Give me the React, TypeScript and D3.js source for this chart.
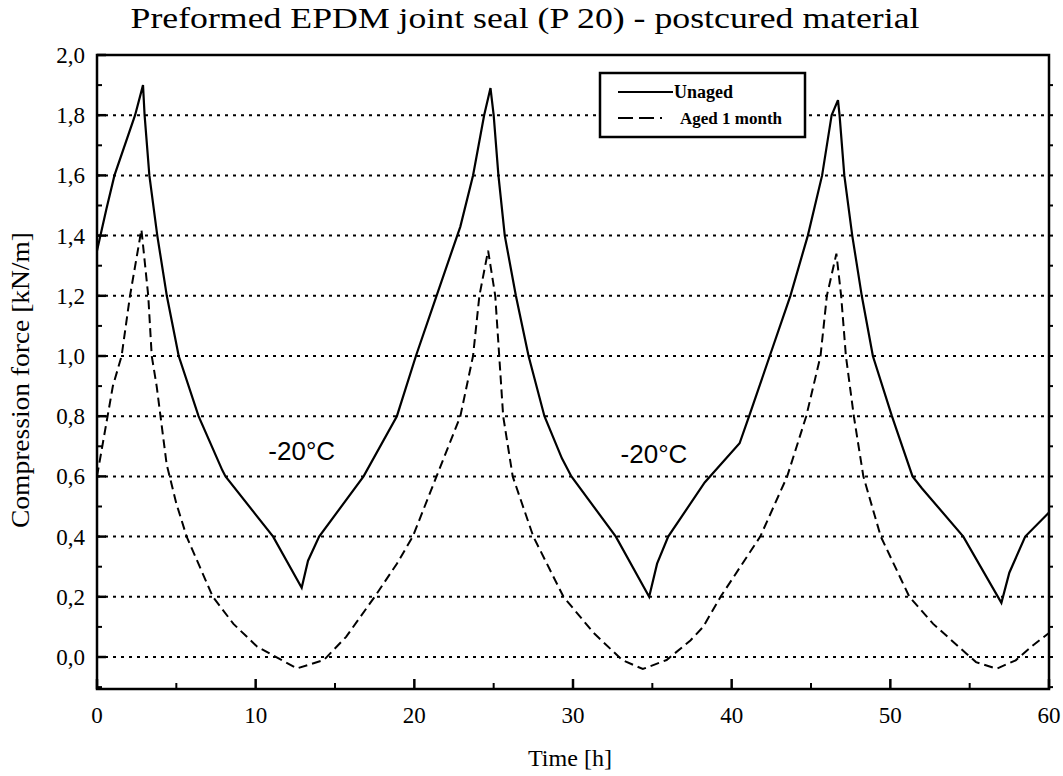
import React from "react"
import * as d3 from "d3"

// Data
const unagedTime = [0, 0.6, 1.1, 2.4, 2.9, 3.0, 3.3, 3.8, 4.4, 5.15, 6.4, 7.9, 8.1, 11.1, 12.9, 13.3, 14.0, 16.8, 18.9, 20.1, 21.4, 22.9, 23.7, 24.4, 24.8, 25.0, 25.3, 25.7, 26.4, 27.2, 28.2, 29.3, 29.9, 32.7, 34.8, 35.3, 36.0, 38.3, 40.5, 41.1, 42.4, 43.7, 44.8, 45.7, 46.3, 46.7, 46.8, 47.1, 47.6, 48.2, 48.9, 50.1, 51.4, 52.0, 54.6, 57.0, 57.5, 58.5, 60]
const unagedForce = [1.35, 1.49, 1.6, 1.8, 1.9, 1.8, 1.6, 1.4, 1.2, 1.0, 0.8, 0.62, 0.6, 0.4, 0.23, 0.32, 0.4, 0.6, 0.8, 1.0, 1.2, 1.43, 1.6, 1.8, 1.89, 1.8, 1.6, 1.4, 1.2, 1.0, 0.8, 0.66, 0.6, 0.4, 0.2, 0.31, 0.4, 0.58, 0.71, 0.8, 1.0, 1.2, 1.4, 1.6, 1.8, 1.85, 1.8, 1.6, 1.4, 1.2, 1.0, 0.8, 0.6, 0.56, 0.4, 0.18, 0.28, 0.4, 0.48]

const agedTime = [0, 0.4, 1.0, 1.55, 2.08, 2.8, 3.23, 3.45, 3.76, 4.39, 5.0, 5.65, 7.3, 8.6, 10.1, 12.6, 14.3, 15.7, 17.5, 18.9, 19.9, 21.4, 22.9, 23.7, 24.1, 24.65, 25.1, 25.6, 26.2, 27.5, 29.4, 31.3, 33.1, 34.4, 35.9, 37.4, 38.2, 39.3, 41.8, 43.5, 44.7, 45.6, 46.0, 46.6, 46.9, 47.2, 47.7, 48.3, 49.4, 51.2, 52.7, 54.8, 55.4, 56.7, 57.9, 59.0, 60]
const agedForce = [0.6, 0.72, 0.9, 1.0, 1.2, 1.42, 1.2, 1.0, 0.9, 0.64, 0.51, 0.4, 0.2, 0.11, 0.034, -0.038, -0.01, 0.067, 0.2, 0.31, 0.4, 0.6, 0.8, 1.0, 1.2, 1.35, 1.2, 0.8, 0.6, 0.4, 0.2, 0.08, -0.01, -0.04, -0.01, 0.055, 0.1, 0.2, 0.4, 0.6, 0.8, 1.0, 1.2, 1.34, 1.2, 1.0, 0.8, 0.6, 0.4, 0.2, 0.11, 0.011, -0.017, -0.039, -0.011, 0.039, 0.08]

const xTicks = [0, 10, 20, 30, 40, 50, 60]
const yTicks = [0, 0.2, 0.4, 0.6, 0.8, 1.0, 1.2, 1.4, 1.6, 1.8, 2.0]
const gridValues = [0, 0.2, 0.4, 0.6, 0.8, 1.0, 1.2, 1.4, 1.6, 1.8]

const noteTime = [10.8, 33.0]
const noteForce = [0.655, 0.645]

const serif = "'Liberation Serif', 'Times New Roman', serif"
const sans = "'Liberation Sans', Arial, sans-serif"

export default function App() {
  const totalW = 1063
  const totalH = 776
  const left = 97
  const right = 1049
  const top = 55
  const bottom = 689

  const xScale = d3.scaleLinear().domain([0, 60]).range([left, right])
  const yScale = d3.scaleLinear().domain([0, 2]).range([657, top])

  const line = d3
    .line<[number, number]>()
    .x(d => xScale(d[0]))
    .y(d => yScale(d[1]))

  const unaged = unagedTime.map((t, i) => [t, unagedForce[i]] as [number, number])
  const aged = agedTime.map((t, i) => [t, agedForce[i]] as [number, number])

  const minorX = d3.range(5, 60, 10)
  const minorY = d3.range(-1, 20, 2).map(k => k / 10)
  const allY = d3.range(-1, 20).map(k => k / 10)

  return (
    <svg
      width={totalW}
      height={totalH}
      style={{ position: "absolute", left: 0, top: 0, background: "#fff" }}
    >
      <text
        x={525}
        y={28}
        fontFamily={serif}
        fontSize={29}
        textAnchor="middle"
        textLength={789}
        lengthAdjust="spacingAndGlyphs"
      >
        Preformed EPDM joint seal (P 20) - postcured material
      </text>

      {/* grid */}
      {gridValues.map(v => (
        <line
          key={`g-${v}`}
          x1={left}
          x2={right}
          y1={yScale(v)}
          y2={yScale(v)}
          stroke="#000"
          strokeWidth={2}
          strokeDasharray="3,5"
        />
      ))}

      {/* left ticks */}
      {yTicks.map(v => (
        <line key={`lt-${v}`} x1={left} x2={left + 9} y1={yScale(v)} y2={yScale(v)} stroke="#000" strokeWidth={2.5} />
      ))}
      {minorY.map(v => (
        <line key={`lm-${v}`} x1={left} x2={left + 5} y1={yScale(v)} y2={yScale(v)} stroke="#000" strokeWidth={2} />
      ))}
      {/* right ticks */}
      {allY.map(v => (
        <line key={`rt-${v}`} x1={right} x2={right + 4} y1={yScale(v)} y2={yScale(v)} stroke="#000" strokeWidth={2} />
      ))}
      {/* bottom ticks */}
      {xTicks.map(t => (
        <line key={`bt-${t}`} x1={xScale(t)} x2={xScale(t)} y1={bottom} y2={bottom - 10} stroke="#000" strokeWidth={2.5} />
      ))}
      {minorX.map(t => (
        <line key={`bm-${t}`} x1={xScale(t)} x2={xScale(t)} y1={bottom} y2={bottom - 6} stroke="#000" strokeWidth={2} />
      ))}

      {/* series */}
      <path d={line(aged) ?? ""} fill="none" stroke="#000" strokeWidth={2} strokeDasharray="9,5" />
      <path d={line(unaged) ?? ""} fill="none" stroke="#000" strokeWidth={2.2} />

      {/* frame */}
      <rect x={left} y={top} width={right - left} height={bottom - top} fill="none" stroke="#000" strokeWidth={2.5} />

      {/* tick labels */}
      {yTicks.map(v => (
        <text
          key={`yl-${v}`}
          x={left - 12}
          y={yScale(v) + 8}
          fontFamily={serif}
          fontSize={23}
          textAnchor="end"
        >
          {d3.format(".1f")(v).replace(".", ",")}
        </text>
      ))}
      {xTicks.map(t => (
        <text key={`xl-${t}`} x={xScale(t)} y={723} fontFamily={serif} fontSize={23} textAnchor="middle">
          {t}
        </text>
      ))}

      <text
        x={570}
        y={766}
        fontFamily={serif}
        fontSize={23}
        textAnchor="middle"
        textLength={84}
        lengthAdjust="spacingAndGlyphs"
      >
        Time [h]
      </text>
      <text
        transform={`translate(29, 380) rotate(-90)`}
        fontFamily={serif}
        fontSize={25}
        textAnchor="middle"
        textLength={296}
        lengthAdjust="spacingAndGlyphs"
      >
        Compression force [kN/m]
      </text>

      {noteTime.map((t, i) => (
        <text key={`n-${i}`} x={xScale(t)} y={yScale(noteForce[i])} fontFamily={sans} fontSize={26}>
          -20°C
        </text>
      ))}

      {/* legend */}
      <rect x={600} y={73} width={205} height={64} fill="#fff" stroke="#000" strokeWidth={2.5} />
      <line x1={618} x2={673} y1={92} y2={92} stroke="#000" strokeWidth={2} />
      <text x={674} y={98} fontFamily={serif} fontSize={18} fontWeight="bold">
        Unaged
      </text>
      <line x1={618} x2={662} y1={118} y2={118} stroke="#000" strokeWidth={2} strokeDasharray="15,6" />
      <text x={680} y={124} fontFamily={serif} fontSize={17} fontWeight="bold">
        Aged 1 month
      </text>
    </svg>
  )
}
